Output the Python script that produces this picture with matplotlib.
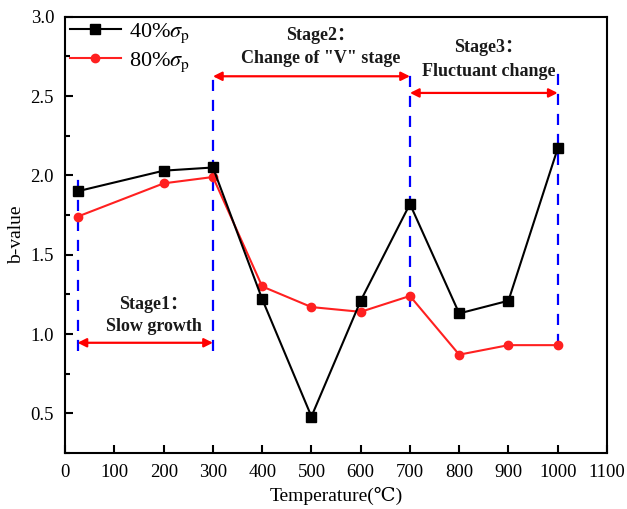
import matplotlib
matplotlib.use('Agg')
import matplotlib.pyplot as plt
from matplotlib.ticker import MultipleLocator

plt.rcParams['font.family'] = ['Liberation Serif', 'DejaVu Serif', 'Noto Sans CJK SC']
plt.rcParams['mathtext.fontset'] = 'stix'

temperature = [25, 200, 300, 400, 500, 600, 700, 800, 900, 1000]
b_40 = [1.90, 2.03, 2.05, 1.22, 0.48, 1.21, 1.82, 1.13, 1.21, 2.17]
b_80 = [1.74, 1.95, 1.99, 1.30, 1.17, 1.14, 1.24, 0.87, 0.93, 0.93]

# stage boundaries: (x, bottom, top)
boundaries = [(25, 0.89, 2.02), (300, 0.89, 2.66), (700, 1.17, 2.68), (1000, 0.93, 2.67)]
# stage arrows: (x0, x1, y)
stage_arrows = [(25, 300, 0.945), (300, 700, 2.625), (700, 1000, 2.52)]
stage_titles = ['Stage1：', 'Stage2：', 'Stage3：']
stage_notes = ['Slow growth', 'Change of "V" stage', 'Fluctuant change']
stage_text_pos = [(180, 1.185, 1.045), (518, 2.885, 2.735), (860, 2.805, 2.655)]

fig = plt.figure(figsize=(6.27, 5.09), dpi=100)
ax = fig.add_axes([0.104, 0.11, 0.864, 0.857])

ax.plot(temperature, b_40, color='black', marker='s', markersize=7, lw=1.5,
        label=r'40%$\sigma_{\rm p}$', zorder=4)
ax.plot(temperature, b_80, color='#ff2020', marker='o', markersize=6, lw=1.5,
        label=r'80%$\sigma_{\rm p}$', zorder=3)

for x, y0, y1 in boundaries:
    ax.plot([x, x], [y0, y1], color='blue', lw=1.6, ls=(0, (5, 4)), zorder=2)

for (x0, x1, y) in stage_arrows:
    ax.annotate('', xy=(x1, y), xytext=(x0, y),
                arrowprops=dict(arrowstyle='<|-|>', color='red', lw=1.6,
                                mutation_scale=13, shrinkA=0, shrinkB=0))

# full-width colon comes from the CJK font
stage_font = ['Liberation Serif', 'Noto Sans CJK SC']
for title, note, (x, yt, yn) in zip(stage_titles, stage_notes, stage_text_pos):
    ax.text(x, yt, title, ha='center', va='center', fontsize=13, fontweight='bold',
            color='#1a1a1a', family=stage_font)
    ax.text(x, yn, note, ha='center', va='center', fontsize=13, fontweight='bold',
            color='#1a1a1a', family=stage_font)

ax.set_xlim(0, 1100)
ax.set_ylim(0.25, 3.0)
ax.xaxis.set_major_locator(MultipleLocator(100))
ax.yaxis.set_minor_locator(MultipleLocator(0.25))
ax.set_yticks([0.5, 1.0, 1.5, 2.0, 2.5, 3.0])
ax.tick_params(which='major', direction='in', length=6, width=1.5, labelsize=13.5, pad=8)
ax.tick_params(which='minor', direction='in', length=3.5, width=1.5)
ax.tick_params(top=False, right=False)
for sp in ax.spines.values():
    sp.set_linewidth(1.5)

ax.set_xlabel('Temperature(℃)', fontsize=14, labelpad=4,
              family=['Liberation Serif', 'DejaVu Serif'])
ax.set_ylabel('b-value', fontsize=14, labelpad=4)

ax.legend(loc='upper left', frameon=False, fontsize=16, handlelength=2.3,
          bbox_to_anchor=(0.0, 1.0), borderaxespad=0.0, borderpad=0.2,
          labelspacing=0.25, handletextpad=0.35)

plt.savefig('out.png', dpi=100)
